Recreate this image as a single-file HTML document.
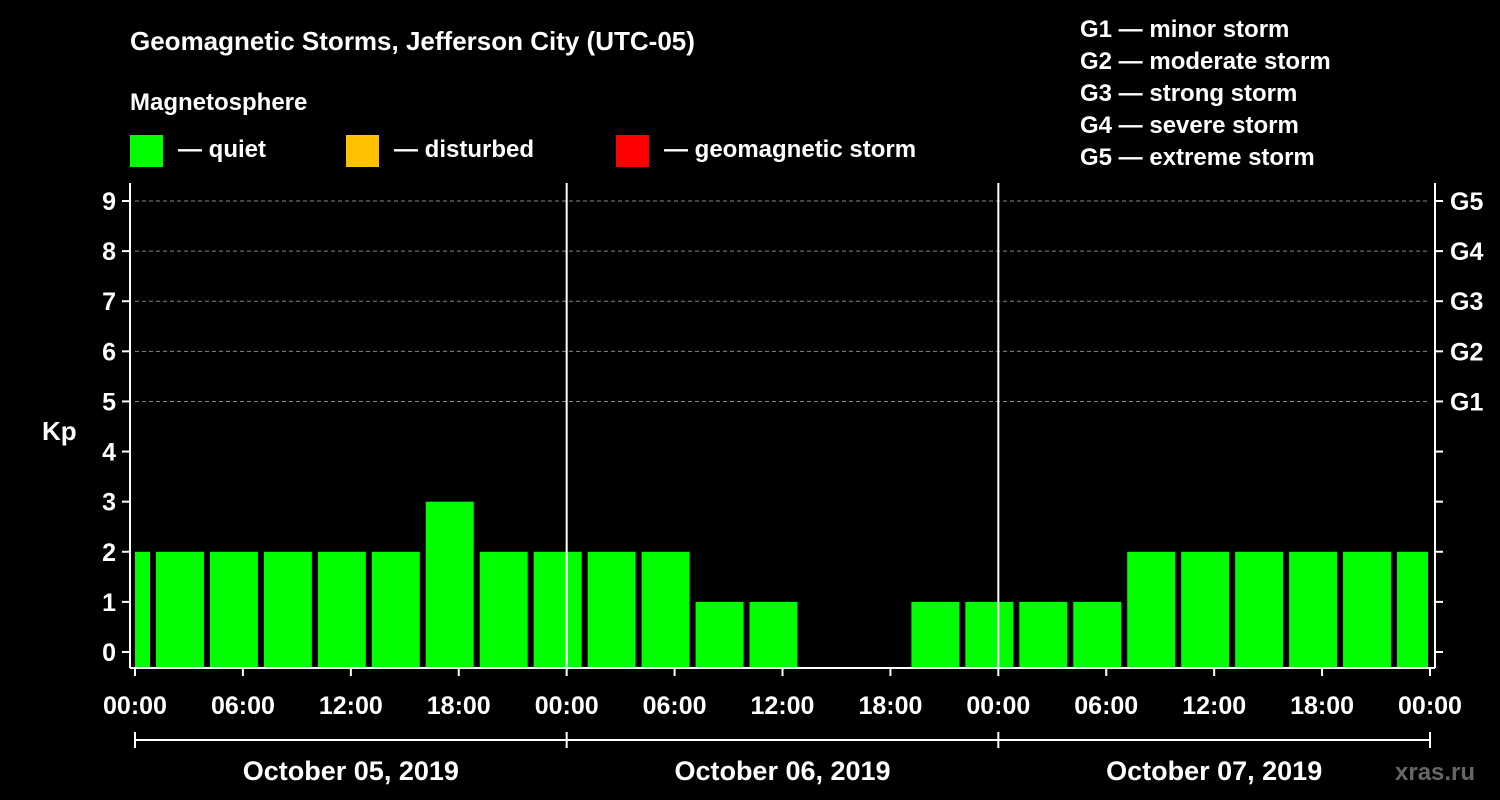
<!DOCTYPE html>
<html><head><meta charset="utf-8"><style>
body{margin:0;background:#000;}
svg{display:block;font-family:"Liberation Sans",sans-serif;font-weight:bold;}
</style></head><body>
<svg id="chart" width="1500" height="800">
<rect width="1500" height="800" fill="#000"/>
<text x="130" y="50" fill="#fff" font-size="26">Geomagnetic Storms, Jefferson City (UTC-05)</text>
<text x="130" y="110" fill="#fff" font-size="24">Magnetosphere</text>
<rect x="130" y="135" width="33" height="32" fill="#00ff00"/>
<text x="178" y="157" fill="#fff" font-size="24">— quiet</text>
<rect x="346" y="135" width="33" height="32" fill="#ffc000"/>
<text x="394" y="157" fill="#fff" font-size="24">— disturbed</text>
<rect x="616" y="135" width="33" height="32" fill="#ff0000"/>
<text x="664" y="157" fill="#fff" font-size="24">— geomagnetic storm</text>
<g fill="#fff" font-size="24">
<text x="1080" y="37">G1 — minor storm</text>
<text x="1080" y="69">G2 — moderate storm</text>
<text x="1080" y="101">G3 — strong storm</text>
<text x="1080" y="133">G4 — severe storm</text>
<text x="1080" y="165">G5 — extreme storm</text>
</g>
<text x="42" y="440" fill="#fff" font-size="26">Kp</text>
<text x="1395" y="780" fill="#666" font-size="24">xras.ru</text>
<g id="plot"></g>
</svg>
<script>
const kpValues=[2,2,2,2,2,2,3,2,2,2,2,1,1,0,0,1,1,1,1,2,2,2,2,2,2];
const barStartHours=[-2,1,4,7,10,13,16,19,22,25,28,31,34,37,40,43,46,49,52,55,58,61,64,67,70];
const xTickLabels=["00:00","06:00","12:00","18:00","00:00","06:00","12:00","18:00","00:00","06:00","12:00","18:00","00:00"];
const yTicks=[0,1,2,3,4,5,6,7,8,9];
const gLabels=["G1","G2","G3","G4","G5"];
const dateLabels=["October 05, 2019","October 06, 2019","October 07, 2019"];
const X0=135,X1=1430,HRS=72,Y0=652,Y9=201,BOT=668,TOP=183;
const x=h=>X0+(X1-X0)*h/HRS;
const y=v=>Y0+(Y9-Y0)*v/9;
const NS="http://www.w3.org/2000/svg";
const g=document.getElementById('plot');
function mk(t,a,txt){const e=document.createElementNS(NS,t);for(const k in a)e.setAttribute(k,a[k]);if(txt!==undefined)e.textContent=txt;g.appendChild(e);return e;}
// grid
[5,6,7,8,9].forEach(v=>{const e=mk('line',{x1:X0,x2:X1,y1:y(v),y2:y(v),stroke:'#888','stroke-dasharray':'4,3','stroke-width':1});

});
// bars
kpValues.forEach((v,i)=>{if(v<=0)return;let a=Math.max(x(barStartHours[i])+3,X0),b=Math.min(x(barStartHours[i]+3)-3,X1-2);
const e=mk('rect',{x:a,y:y(v),width:b-a,height:BOT-y(v),fill:'#00ff00'});

});
// day separators
[24,48].forEach(h=>{const e=mk('line',{x1:x(h),x2:x(h),y1:TOP,y2:BOT,stroke:'#fff','stroke-width':2});

});
// axes
mk('line',{x1:130,x2:130,y1:TOP,y2:BOT,stroke:'#fff','stroke-width':2});
mk('line',{x1:1435,x2:1435,y1:TOP,y2:BOT,stroke:'#fff','stroke-width':2});
mk('line',{x1:130,x2:1435,y1:BOT,y2:BOT,stroke:'#fff','stroke-width':2});
yTicks.forEach(v=>{mk('line',{x1:122,x2:130,y1:y(v),y2:y(v),stroke:'#fff','stroke-width':2});
mk('line',{x1:1435,x2:1443,y1:y(v),y2:y(v),stroke:'#fff','stroke-width':2});
const t=mk('text',{x:116,y:y(v)+9,fill:'#fff','font-size':25,'text-anchor':'end'},String(v));

});
gLabels.forEach((s,i)=>{const t=mk('text',{x:1450,y:y(i+5)+9,fill:'#fff','font-size':25},s);

});
xTickLabels.forEach((s,i)=>{const h=i*6;mk('line',{x1:x(h),x2:x(h),y1:BOT,y2:BOT+8,stroke:'#fff','stroke-width':2});
const t=mk('text',{x:x(h),y:714,fill:'#fff','font-size':25,'text-anchor':'middle'},s);

});
mk('line',{x1:X0,x2:X1,y1:740,y2:740,stroke:'#fff','stroke-width':2});
[0,24,48,72].forEach(h=>mk('line',{x1:x(h),x2:x(h),y1:732,y2:748,stroke:'#fff','stroke-width':2}));
dateLabels.forEach((s,i)=>{const t=mk('text',{x:x(i*24+12),y:780,fill:'#fff','font-size':27,'text-anchor':'middle'},s);

});
</script>
</body></html>
